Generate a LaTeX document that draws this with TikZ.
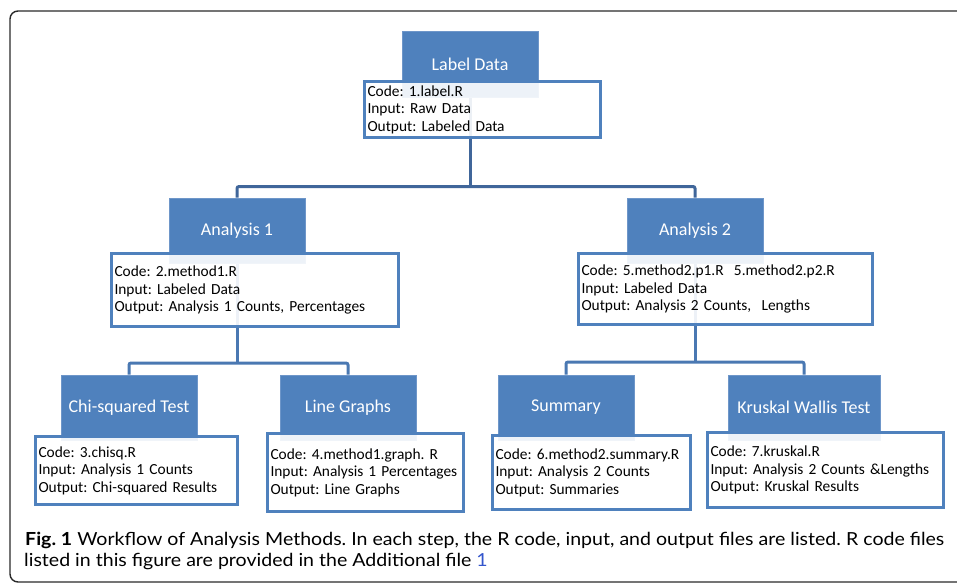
\documentclass[tikz,border=0pt]{standalone}
\usepackage{fontspec}
\setmainfont{Carlito}
\newfontfamily\capfont{Lato}
\frenchspacing
\definecolor{boxblue}{HTML}{4F81BD}
\definecolor{boxedge}{HTML}{6E96C9}
\definecolor{connA}{HTML}{40669A}
\definecolor{connB}{HTML}{4A78B2}
\definecolor{frame}{HTML}{2A2A2A}
\definecolor{captext}{HTML}{3A3A3A}
\definecolor{linkblue}{HTML}{3355CC}
\newsavebox\capboxA
\newsavebox\capboxB
\pgfdeclarelayer{background}
\pgfsetlayers{background,main}
\tikzset{
  titlebox/.style={fill=boxblue, draw=boxedge, line width=0.6pt, minimum height=65pt,
    text=white, font=\fontsize{18}{21}\selectfont, inner sep=0pt},
  infobox/.style={fill=white, fill opacity=0.9, text opacity=1, draw=boxblue, draw opacity=1,
    line width=2.6pt, align=left, inner xsep=3pt, inner ysep=0pt,
    font=\fontsize{15.4}{17.5}\selectfont\frenchspacing, text=black},
  connectorA/.style={draw=connA, line width=3pt, rounded corners=2pt},
  connectorB/.style={draw=connB, line width=3pt, rounded corners=2pt},
}
\begin{document}
\sbox\capboxA{\frenchspacing\capfont\fontsize{18}{21}\selectfont\textbf{Fig. 1} Workflow of Analysis Methods. In each step, the R code, input, and output files are listed. R code files}%
\sbox\capboxB{\frenchspacing\capfont\fontsize{18}{21}\selectfont listed in this figure are provided in the Additional file \textcolor{linkblue}{1}}%
\begin{tikzpicture}[x=1pt, y=-1pt]
\clip (0,0) rectangle (957,584);
\begin{pgfonlayer}{background}
\fill[white] (0,0) rectangle (957,584);
\end{pgfonlayer}
% outer frame
\draw[frame, line width=1.4pt, rounded corners=8pt] (10,11) rectangle (990,582);

% connector hubs
\coordinate (h0) at (470,186.5);
\coordinate (h1) at (237,363);
\coordinate (h2) at (695,362);

% title boxes
\node[titlebox, minimum width=136pt, minimum height=66pt] (ldt) at (470,64) {Label Data};
\node[titlebox, minimum width=136pt] (a1t) at (237,230.5) {Analysis 1};
\node[titlebox, minimum width=136pt] (a2t) at (695,230.5) {Analysis 2};
\node[titlebox, minimum width=136pt] (cht) at (129,407.5) {Chi-squared Test};
\node[titlebox, minimum width=136pt] (lgt) at (348,407.5) {Line Graphs};
\node[titlebox, minimum width=136pt] (smt) at (566,407.5) {Summary};
\node[titlebox, minimum width=152pt] (kwt) at (804,407.5) {Kruskal Wallis Test};

% info boxes
\node[infobox, minimum width=236pt, minimum height=56pt, text width=230pt] (ldi) at (482.5,109.5)
  {Code: 1.label.R\\Input: Raw Data\\Output: Labeled Data};
\node[infobox, minimum width=287pt, minimum height=73pt, text width=281pt] (a1i) at (255,290)
  {Code: 2.method1.R\\Input: Labeled Data\\Output: Analysis 1 Counts, Percentages};
\node[infobox, minimum width=294pt, minimum height=71pt, text width=288pt] (a2i) at (725.5,289)
  {Code: 5.method2.p1.R\ \ 5.method2.p2.R\\Input: Labeled Data\\Output: Analysis 2 Counts,\ \ Lengths};
\node[infobox, minimum width=202pt, minimum height=68pt, text width=196pt] (chi) at (136.5,470.5)
  {Code: 3.chisq.R\\Input: Analysis 1 Counts\\Output: Chi-squared Results};
\node[infobox, minimum width=196pt, minimum height=78pt, text width=190pt] (lgi) at (365.5,472.5)
  {Code: 4.method1.graph. R\\Input: Analysis 1 Percentages\\Output: Line Graphs};
\node[infobox, minimum width=198pt, minimum height=74pt, text width=192pt] (smi) at (591.5,472.5)
  {Code: 6.method2.summary.R\\Input: Analysis 2 Counts\\Output: Summaries};
\node[infobox, minimum width=236pt, minimum height=75pt, text width=230pt] (kwi) at (825.5,470)
  {Code: 7.kruskal.R\\Input: Analysis 2 Counts \&Lengths\\Output: Kruskal Results};

% connectors (behind boxes)
\begin{pgfonlayer}{background}
\draw[connectorA] (ldt.center) -- (h0);
\draw[connectorA] (a1t.north) |- (h0) -| (a2t.north);
\draw[connectorB] (a1t.center) -- (h1);
\draw[connectorB] (cht.north) |- (h1) -| (lgt.north);
\draw[connectorB] (a2t.center) -- (h2);
\draw[connectorB] (smt.north) |- (h2) -| (kwt.north);
\end{pgfonlayer}

% caption
\pgfmathsetmacro\capratio{919/\the\wd\capboxA}
\node[anchor=base west, inner sep=0pt, text=captext] (cap1) at (25,545) {\scalebox{\capratio}[1]{\usebox\capboxA}};
\node[anchor=base west, inner sep=0pt, text=captext] (cap2) at (24,566) {\scalebox{\capratio}[1]{\usebox\capboxB}};
\end{tikzpicture}
\end{document}
